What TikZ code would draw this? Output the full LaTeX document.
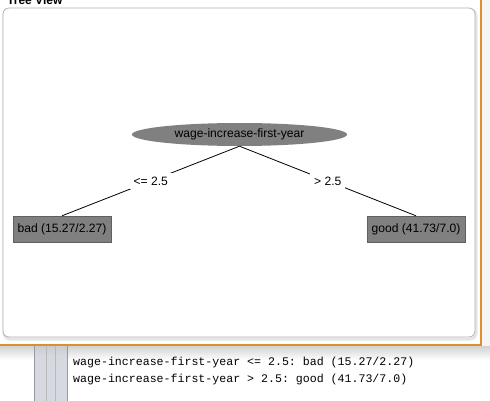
\documentclass[tikz,border=0pt]{standalone}
\usepackage{fontspec}
\setmainfont{Liberation Sans}
\setmonofont{Liberation Mono}
\usetikzlibrary{shapes.geometric}

\definecolor{nodegray}{RGB}{128,128,128}
\definecolor{frameorange}{RGB}{223,142,44}
\definecolor{barblue}{RGB}{214,217,224}
\definecolor{bardark}{RGB}{150,152,160}

\tikzset{
    treefont/.style={font=\fontsize{12.1}{14}\selectfont},
    splitnode/.style={ellipse, fill=nodegray, minimum width=215pt, minimum height=23pt, inner sep=0pt, treefont},
    leafnode/.style={rectangle, fill=nodegray, draw=nodegray!75!black, minimum width=98pt, minimum height=26pt, inner sep=0pt, treefont},
    edgelabel/.style={fill=white, inner xsep=4pt, inner ysep=3.5pt, treefont},
    branch/.style={black, line width=0.8pt},
    ruletext/.style={anchor=base west, inner sep=0pt, font=\fontsize{11.6}{14}\ttfamily}
}

\begin{document}
\begin{tikzpicture}[x=1pt, y=-1pt]
    \useasboundingbox (0,0) rectangle (490,401);
    \clip (0,0) rectangle (490,401);
    \fill[white] (0,0) rectangle (490,401);

    % window and its shadow
    \fill[gray!8] (482,0) rectangle (490,346);
    \shade[top color=gray!35, bottom color=white] (0,346) rectangle (490,360);
    \draw[frameorange, line width=1.2pt] (481,0) -- (481,345) -- (0,345);

    % scroll bars under the window
    \fill[barblue] (34,346) rectangle (67,401);
    \shade[top color=gray!45, bottom color=barblue, opacity=0.6] (34,346) rectangle (67,356);
    \draw[bardark, line width=0.8pt] (34,346) -- (34,401);
    \draw[bardark, line width=0.8pt] (67,346) -- (67,401);
    \draw[gray!55, line width=0.6pt] (46,346) -- (46,401);
    \draw[gray!55, line width=0.6pt] (55,346) -- (55,401);

    \node[anchor=base west, inner sep=0pt, font=\fontsize{12}{14}\selectfont\bfseries] (title) at (7,5) {Tree View};

    % panel
    \draw[gray!20, line width=3pt, rounded corners=6pt] (4,10) rectangle (476,339);
    \draw[gray!60, fill=white, line width=0.8pt, rounded corners=6pt] (3,8) rectangle (475,337);

    % the tree
    \node[splitnode] (root) at (239.5,134.5) {wage-increase-first-year};
    \node[leafnode] (bad) at (62,229) {bad (15.27/2.27)};
    \node[leafnode] (good) at (416,229) {good (41.73/7.0)};

    \draw[branch] (root.south) -- node[edgelabel] (le) {<= 2.5} (bad.north);
    \draw[branch] (root.south) -- node[edgelabel] (gt) {> 2.5} (good.north);

    % text output
    \node[ruletext] (rule1) at (73,365) {wage-increase-first-year <= 2.5: bad (15.27/2.27)};
    \node[ruletext] (rule2) at (73,382) {wage-increase-first-year > 2.5: good (41.73/7.0)};
\end{tikzpicture}
\end{document}
